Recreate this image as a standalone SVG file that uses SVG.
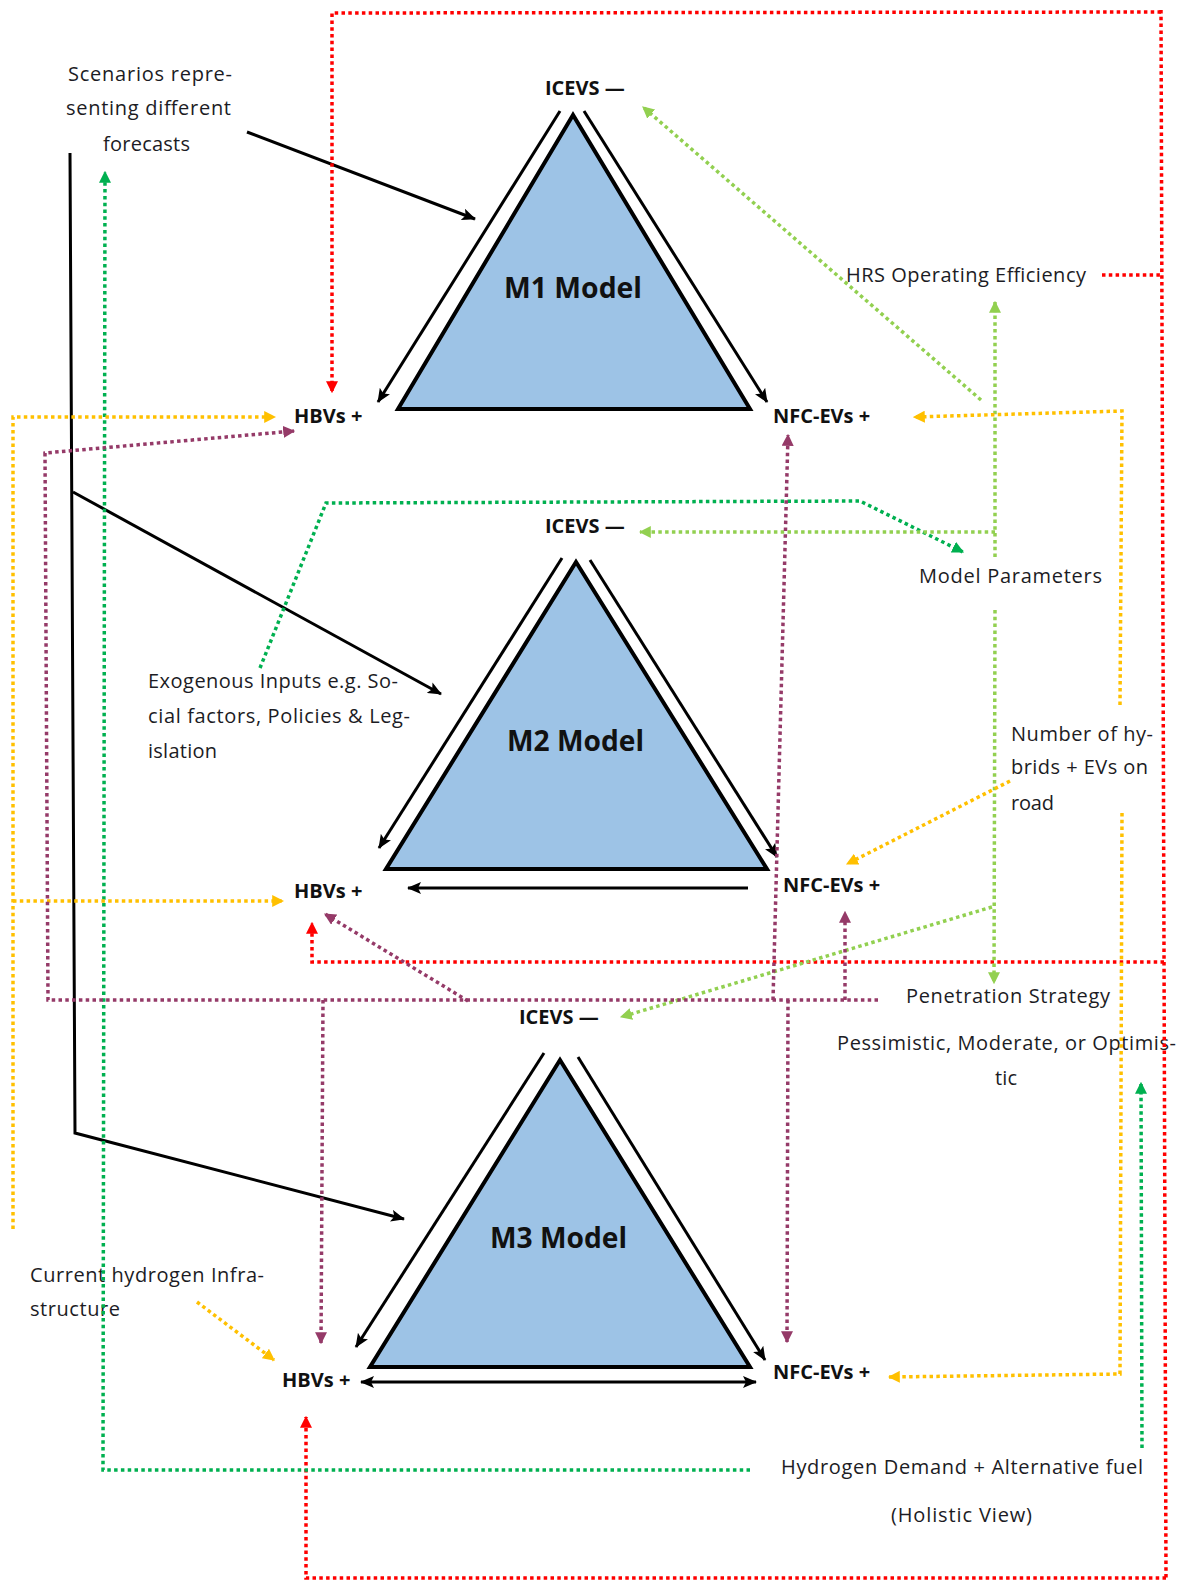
<svg xmlns="http://www.w3.org/2000/svg" width="1186" height="1581" viewBox="0 0 1186 1581">
  <style>
    .txt { font-family: "Open Sans", "Liberation Sans", sans-serif; font-size: 20px; fill: #1c1c24; }
    .vl { font-family: "Open Sans", "Liberation Sans", sans-serif; font-size: 20px; font-weight: bold; fill: #111; }
    .mdl { font-family: "Open Sans", "Liberation Sans", sans-serif; font-size: 28px; font-weight: bold; fill: #111; }
    .tri { fill: #9DC3E6; stroke: #000; stroke-width: 4; stroke-linejoin: miter; }
    .solid { fill: none; stroke: #000; stroke-width: 3; }
    .dot { fill: none; stroke-width: 3.5; stroke-dasharray: 3.5 3.3; }
    .red { stroke: #FF0000; }
    .grn { stroke: #00B050; }
    .lgr { stroke: #92D050; }
    .yel { stroke: #FFC000; }
    .pur { stroke: #953A68; }
  </style>
  <defs>
    <marker id="ah-black" markerUnits="userSpaceOnUse" viewBox="0 0 14 12" markerWidth="14" markerHeight="12" refX="13" refY="6" orient="auto-start-reverse">
      <path d="M0,0 L14,6 L0,12 L3,6 z" fill="#000"/>
    </marker>
    <marker id="ah-red" markerUnits="userSpaceOnUse" viewBox="0 0 10 10" markerWidth="12" markerHeight="12" refX="9" refY="5" orient="auto">
      <path d="M0,0 L10,5 L0,10 z" fill="#FF0000"/>
    </marker>
    <marker id="ah-grn" markerUnits="userSpaceOnUse" viewBox="0 0 10 10" markerWidth="12" markerHeight="12" refX="9" refY="5" orient="auto">
      <path d="M0,0 L10,5 L0,10 z" fill="#00B050"/>
    </marker>
    <marker id="ah-lgr" markerUnits="userSpaceOnUse" viewBox="0 0 10 10" markerWidth="12" markerHeight="12" refX="9" refY="5" orient="auto">
      <path d="M0,0 L10,5 L0,10 z" fill="#92D050"/>
    </marker>
    <marker id="ah-yel" markerUnits="userSpaceOnUse" viewBox="0 0 10 10" markerWidth="12" markerHeight="12" refX="9" refY="5" orient="auto">
      <path d="M0,0 L10,5 L0,10 z" fill="#FFC000"/>
    </marker>
    <marker id="ah-pur" markerUnits="userSpaceOnUse" viewBox="0 0 10 10" markerWidth="12" markerHeight="12" refX="9" refY="5" orient="auto">
      <path d="M0,0 L10,5 L0,10 z" fill="#953A68"/>
    </marker>
  </defs>

  <rect width="1186" height="1581" fill="#fff"/>

  <!-- model triangles -->
  <g id="m1-model">
    <polygon class="tri" points="573,115 398,409 750,409"/>
    <text class="mdl" x="504" y="298" textLength="138" lengthAdjust="spacingAndGlyphs">M1 Model</text>
    <text class="vl" x="545" y="95">ICEVS —</text>
    <text class="vl" x="294" y="423">HBVs +</text>
    <text class="vl" x="773" y="423">NFC-EVs +</text>
  </g>
  <g id="m2-model">
    <polygon class="tri" points="576,562 386,869 767,869"/>
    <text class="mdl" x="507" y="751" textLength="137" lengthAdjust="spacingAndGlyphs">M2 Model</text>
    <text class="vl" x="545" y="533">ICEVS —</text>
    <text class="vl" x="294" y="898">HBVs +</text>
    <text class="vl" x="783" y="892">NFC-EVs +</text>
  </g>
  <g id="m3-model">
    <polygon class="tri" points="560,1060 370,1367 750,1367"/>
    <text class="mdl" x="490" y="1248" textLength="137" lengthAdjust="spacingAndGlyphs">M3 Model</text>
    <text class="vl" x="519" y="1024">ICEVS —</text>
    <text class="vl" x="282" y="1387">HBVs +</text>
    <text class="vl" x="773" y="1379">NFC-EVs +</text>
  </g>

  <!-- input / parameter labels -->
  <g id="scenarios">
    <text class="txt" x="68" y="81" textLength="164">Scenarios repre-</text>
    <text class="txt" x="66" y="115" textLength="165">senting different</text>
    <text class="txt" x="103" y="151" textLength="87">forecasts</text>
  </g>
  <g id="exogenous-inputs">
    <text class="txt" x="148" y="688" textLength="250">Exogenous Inputs e.g. So-</text>
    <text class="txt" x="148" y="723" textLength="262">cial factors, Policies &amp; Leg-</text>
    <text class="txt" x="148" y="758" textLength="69">islation</text>
  </g>
  <g id="hrs-efficiency">
    <text class="txt" x="846" y="282" textLength="240">HRS Operating Efficiency</text>
  </g>
  <g id="model-parameters">
    <text class="txt" x="919" y="583" textLength="183">Model Parameters</text>
  </g>
  <g id="vehicles-on-road">
    <text class="txt" x="1011" y="741" textLength="142">Number of hy-</text>
    <text class="txt" x="1011" y="774" textLength="137">brids + EVs on</text>
    <text class="txt" x="1011" y="810" textLength="43">road</text>
  </g>
  <g id="penetration-strategy">
    <text class="txt" x="906" y="1003" textLength="204">Penetration Strategy</text>
    <text class="txt" x="837" y="1050" textLength="339">Pessimistic, Moderate, or Optimis-</text>
    <text class="txt" x="995" y="1085" textLength="22">tic</text>
  </g>
  <g id="hydrogen-infrastructure">
    <text class="txt" x="30" y="1282" textLength="234">Current hydrogen Infra-</text>
    <text class="txt" x="30" y="1316" textLength="90">structure</text>
  </g>
  <g id="hydrogen-demand">
    <text class="txt" x="781" y="1474" textLength="362">Hydrogen Demand + Alternative fuel</text>
    <text class="txt" x="891" y="1522" textLength="141">(Holistic View)</text>
  </g>

  <g id="connectors">
    <!-- solid black flows -->
    <path class="solid" d="M70,153 L75,1133 L404,1219" marker-end="url(#ah-black)"/>
    <path class="solid" d="M73,492 L441,694" marker-end="url(#ah-black)"/>
    <path class="solid" d="M247,132 L475,219" marker-end="url(#ah-black)"/>
    <path class="solid" d="M560,111 L378,402" marker-end="url(#ah-black)"/>
    <path class="solid" d="M584,111 L767,402" marker-end="url(#ah-black)"/>
    <path class="solid" d="M562,558 L379,848" marker-end="url(#ah-black)"/>
    <path class="solid" d="M590,560 L777,857" marker-end="url(#ah-black)"/>
    <path class="solid" d="M748,888 L408,888" marker-end="url(#ah-black)"/>
    <path class="solid" d="M544,1053 L356,1347" marker-end="url(#ah-black)"/>
    <path class="solid" d="M578,1057 L765,1360" marker-end="url(#ah-black)"/>
    <path class="solid" d="M361,1382 L756,1382" marker-start="url(#ah-black)" marker-end="url(#ah-black)"/>

    <!-- red: HRS operating efficiency feedback -->
    <path class="dot red" d="M1102,275 L1161,275"/>
    <path class="dot red" d="M1161,10 L1166,1578"/>
    <path class="dot red" d="M1161,12 L332,13 L332,392" marker-end="url(#ah-red)"/>
    <path class="dot red" d="M1164,962 L312,962 L312,923" marker-end="url(#ah-red)"/>
    <path class="dot red" d="M1166,1578 L306,1578 L306,1417" marker-end="url(#ah-red)"/>

    <!-- dark green -->
    <path class="dot grn" d="M750,1470 L103,1470 L105,172" marker-end="url(#ah-grn)"/>
    <path class="dot grn" d="M1142,1448 L1141,1083" marker-end="url(#ah-grn)"/>
    <path class="dot grn" d="M260,668 L326,503 L860,501 L963,552" marker-end="url(#ah-grn)"/>

    <!-- light green: model parameters -->
    <path class="dot lgr" d="M981,400 L643,107" marker-end="url(#ah-lgr)"/>
    <path class="dot lgr" d="M995,557 L995,302" marker-end="url(#ah-lgr)"/>
    <path class="dot lgr" d="M995,532 L640,532" marker-end="url(#ah-lgr)"/>
    <path class="dot lgr" d="M995,610 L994,983" marker-end="url(#ah-lgr)"/>
    <path class="dot lgr" d="M992,907 L621,1017" marker-end="url(#ah-lgr)"/>

    <!-- yellow -->
    <path class="dot yel" d="M13,1229 L13,417 L275,417" marker-end="url(#ah-yel)"/>
    <path class="dot yel" d="M13,901 L283,901" marker-end="url(#ah-yel)"/>
    <path class="dot yel" d="M1120,705 L1122,411 L914,417" marker-end="url(#ah-yel)"/>
    <path class="dot yel" d="M1010,781 L847,864" marker-end="url(#ah-yel)"/>
    <path class="dot yel" d="M1122,813 L1120,1374 L889,1377" marker-end="url(#ah-yel)"/>
    <path class="dot yel" d="M197,1302 L274,1360" marker-end="url(#ah-yel)"/>

    <!-- purple: penetration strategy -->
    <path class="dot pur" d="M878,1000 L48,1000 L45,453 L294,431" marker-end="url(#ah-pur)"/>
    <path class="dot pur" d="M468,1001 L325,914" marker-end="url(#ah-pur)"/>
    <path class="dot pur" d="M323,1000 L321,1343" marker-end="url(#ah-pur)"/>
    <path class="dot pur" d="M773,1000 L788,435" marker-end="url(#ah-pur)"/>
    <path class="dot pur" d="M788,1000 L787,1342" marker-end="url(#ah-pur)"/>
    <path class="dot pur" d="M845,1000 L845,912" marker-end="url(#ah-pur)"/>
  </g>
</svg>
